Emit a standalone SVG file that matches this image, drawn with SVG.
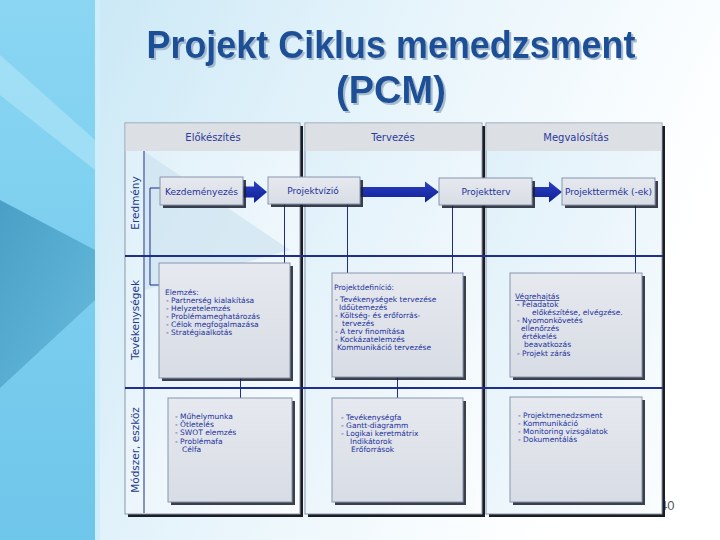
<svg xmlns="http://www.w3.org/2000/svg" width="720" height="540" viewBox="0 0 720 540">
<defs>
<linearGradient id="bg" x1="0" y1="0" x2="1" y2="0.35">
<stop offset="0" stop-color="#c3e5f5"/>
<stop offset="0.45" stop-color="#e2f2fa"/>
<stop offset="0.85" stop-color="#f8fcfe"/>
<stop offset="1" stop-color="#ffffff"/>
</linearGradient>
<linearGradient id="band" x1="0" y1="0" x2="0" y2="1">
<stop offset="0" stop-color="#8ad6f3"/>
<stop offset="1" stop-color="#6ec6ea"/>
</linearGradient>
<linearGradient id="wedge" x1="0" y1="0" x2="1" y2="1">
<stop offset="0" stop-color="#4a9fc6"/>
<stop offset="1" stop-color="#66bbde"/>
</linearGradient>
<linearGradient id="pang" x1="0" y1="0" x2="1" y2="1">
<stop offset="0" stop-color="#dff0f9"/>
<stop offset="0.6" stop-color="#eef7fc"/>
<stop offset="1" stop-color="#fbfdfe"/>
</linearGradient>
<linearGradient id="boxg" x1="0" y1="0" x2="0" y2="1">
<stop offset="0" stop-color="#e6e9ef"/>
<stop offset="1" stop-color="#d8dce4"/>
</linearGradient>
<linearGradient id="arrg" x1="0" y1="0" x2="0" y2="1">
<stop offset="0" stop-color="#2a40c4"/>
<stop offset="1" stop-color="#0f1f94"/>
</linearGradient>
<filter id="tsh" x="-5%" y="-20%" width="110%" height="140%">
<feDropShadow dx="2" dy="2" stdDeviation="0.6" flood-color="#9fb6cc" flood-opacity="0.9"/>
</filter>
<style>
.hdr{font-family:"DejaVu Sans",Verdana,sans-serif;font-size:10px;fill:#2b3a9e;text-anchor:middle}
.rl{font-family:"DejaVu Sans",Verdana,sans-serif;font-size:10.5px;fill:#27388a;text-anchor:middle}
.bt{font-family:"DejaVu Sans",Verdana,sans-serif;font-size:9px;fill:#22329c;text-anchor:middle}
.t{font-family:"DejaVu Sans",Verdana,sans-serif;font-size:7.5px;fill:#22329c}
.box{fill:url(#boxg);stroke:#8795ad;stroke-width:1}
.sh{fill:#1b1e2c;opacity:0.85}
.pan{fill:url(#pang);stroke:#8a96a8;stroke-width:1}
.psh{fill:#1c1c24}
.phd{fill:#dcdfe3}
.conn{stroke:#1f2d8c;stroke-width:1;fill:none}
.row{stroke:#1e2f8f;stroke-width:2;fill:none}
.arr{fill:url(#arrg)}
</style>
</defs>

<!-- background -->
<rect x="0" y="0" width="720" height="540" fill="url(#bg)"/>
<rect x="0" y="0" width="95" height="540" fill="url(#band)"/>
<polygon points="0,55 95,140 95,170 0,95" fill="#b2e6f8" opacity="0.6"/>
<polygon points="0,200 95,250 95,300 0,388" fill="url(#wedge)"/>
<rect x="95" y="0" width="5" height="540" fill="#cdeefa"/>

<!-- title -->
<g id="title" font-family="'Liberation Sans',Arial,sans-serif" font-weight="bold" text-anchor="middle" fill="#1b4f96" filter="url(#tsh)">
<text x="391" y="58" font-size="38" textLength="489" lengthAdjust="spacingAndGlyphs">Projekt Ciklus menedzsment</text>
<text x="391" y="103" font-size="38">(PCM)</text>
</g>

<text x="660" y="510" font-family="'Liberation Sans',Arial,sans-serif" font-size="13" fill="#555555">40</text>

<!-- column panels -->
<g id="col-elokeszites">
<rect class="psh" x="128" y="126" width="175" height="391"/>
<rect class="pan" x="125" y="123" width="175" height="391"/>
<polygon points="145,152 290,250 145,290" fill="#c6dfec" opacity="0.55"/>
<rect class="phd" x="125.5" y="123.5" width="174" height="27.5"/>
<text class="hdr" x="213" y="141">Előkészítés</text>
</g>
<g id="col-tervezes">
<rect class="psh" x="308" y="126" width="177" height="391"/>
<rect class="pan" x="305" y="123" width="177" height="391"/>
<rect class="phd" x="305.5" y="123.5" width="176" height="27.5"/>
<text class="hdr" x="393" y="141">Tervezés</text>
</g>
<g id="col-megvalositas">
<rect class="psh" x="489" y="126" width="176" height="391"/>
<rect class="pan" x="486" y="123" width="176" height="391"/>
<rect class="phd" x="486.5" y="123.5" width="175" height="27.5"/>
<text class="hdr" x="576" y="141">Megvalósítás</text>
</g>

<!-- row structure -->
<g id="rows">
<line class="conn" x1="144" y1="151" x2="144" y2="513"/>
<line class="row" x1="125" y1="256" x2="663" y2="256"/>
<line class="row" x1="125" y1="388" x2="663" y2="388"/>
<text class="rl" transform="translate(138.5,203) rotate(-90)">Eredmény</text>
<text class="rl" transform="translate(138.5,320) rotate(-90)">Tevékenységek</text>
<text class="rl" transform="translate(138.5,450) rotate(-90)">Módszer, eszköz</text>
</g>

<!-- connectors -->
<g id="connectors">
<polyline class="conn" points="160,188 150,188 150,285 159,285"/>
<line class="conn" x1="284.5" y1="204" x2="284.5" y2="263"/>
<line class="conn" x1="347.5" y1="204" x2="347.5" y2="273"/>
<line class="conn" x1="452.5" y1="205" x2="452.5" y2="273"/>
<line class="conn" x1="635.5" y1="205" x2="635.5" y2="273"/>
<line class="conn" x1="240.5" y1="378" x2="240.5" y2="398"/>
<line class="conn" x1="397.5" y1="377" x2="397.5" y2="398"/>
<polygon class="arr" points="243,186.5 254,186.5 254,181 267,192 254,203 254,197.5 243,197.5"/>
<polygon class="arr" points="360,187 425,187 425,181.5 439,192 425,202.5 425,197 360,197"/>
<polygon class="arr" points="532,187 549,187 549,181.5 562,192 549,202.5 549,197 532,197"/>
</g>

<!-- row 1 nodes -->
<g id="kezdemenyezes">
<rect class="sh" x="163" y="180" width="83" height="28"/>
<rect class="box" x="160" y="177" width="83" height="28"/>
<text class="bt" x="201.5" y="195">Kezdeményezés</text>
</g>
<g id="projektvizio">
<rect class="sh" x="271" y="180" width="92" height="27"/>
<rect class="box" x="268" y="177" width="92" height="27"/>
<text class="bt" x="313" y="194">Projektvízió</text>
</g>
<g id="projektterv">
<rect class="sh" x="442" y="181" width="93" height="27"/>
<rect class="box" x="439" y="178" width="93" height="27"/>
<text class="bt" x="486" y="195">Projektterv</text>
</g>
<g id="projekttermek">
<rect class="sh" x="565" y="181" width="93" height="27"/>
<rect class="box" x="562" y="178" width="93" height="27"/>
<text class="bt" x="608.5" y="195" font-size="8.5">Projekttermék (-ek)</text>
</g>

<!-- row 2 nodes -->
<g id="elemzes">
<rect class="sh" x="162" y="266" width="131" height="115"/>
<rect class="box" x="159" y="263" width="131" height="115"/>
<text class="t" x="165" y="295">Elemzés:</text>
<text class="t" x="166" y="303">- Partnerség kialakítása</text>
<text class="t" x="166" y="311">- Helyzetelemzés</text>
<text class="t" x="166" y="319">- Problémameghatározás</text>
<text class="t" x="166" y="327">- Célok megfogalmazása</text>
<text class="t" x="166" y="335">- Stratégiaalkotás</text>
</g>
<g id="projektdefinicio">
<rect class="sh" x="335" y="276" width="131" height="104"/>
<rect class="box" x="332" y="273" width="131" height="104"/>
<text class="t" x="334" y="290">Projektdefiníció:</text>
<text class="t" x="335" y="302">- Tevékenységek tervezése</text>
<text class="t" x="339" y="310">Időütemezés</text>
<text class="t" x="335" y="318">- Költség- és erőforrás-</text>
<text class="t" x="342" y="326">tervezés</text>
<text class="t" x="335" y="334">- A terv finomítása</text>
<text class="t" x="335" y="342">- Kockázatelemzés</text>
<text class="t" x="337" y="350">Kommunikáció tervezése</text>
</g>
<g id="vegrehajtas">
<rect class="sh" x="513" y="276" width="132" height="104"/>
<rect class="box" x="510" y="273" width="132" height="104"/>
<text class="t" x="515" y="299" text-decoration="underline">Végrehajtás</text>
<text class="t" x="517" y="307">- Feladatok</text>
<text class="t" x="532" y="315">előkészítése,  elvégzése.</text>
<text class="t" x="517" y="323">- Nyomonkövetés</text>
<text class="t" x="521" y="331">ellenőrzés</text>
<text class="t" x="522" y="339">értékelés</text>
<text class="t" x="524" y="347">beavatkozás</text>
<text class="t" x="517" y="356">- Projekt zárás</text>
</g>

<!-- row 3 nodes -->
<g id="muhelymunka">
<rect class="sh" x="171" y="401" width="124" height="104"/>
<rect class="box" x="168" y="398" width="124" height="104"/>
<text class="t" x="175" y="419">- Műhelymunka</text>
<text class="t" x="175" y="427">- Ötletelés</text>
<text class="t" x="175" y="435">- SWOT elemzés</text>
<text class="t" x="175" y="444">- Problémafa</text>
<text class="t" x="182" y="452">Célfa</text>
</g>
<g id="tevekenysegfa">
<rect class="sh" x="335" y="401" width="131" height="104"/>
<rect class="box" x="332" y="398" width="131" height="104"/>
<text class="t" x="341" y="420">- Tevékenységfa</text>
<text class="t" x="341" y="428">- Gantt-diagramm</text>
<text class="t" x="341" y="436">- Logikai keretmátrix</text>
<text class="t" x="350" y="444">Indikátorok</text>
<text class="t" x="351" y="452">Erőforrások</text>
</g>
<g id="projektmenedzsment">
<rect class="sh" x="513" y="400" width="132" height="105"/>
<rect class="box" x="510" y="397" width="132" height="105"/>
<text class="t" x="518" y="418">- Projektmenedzsment</text>
<text class="t" x="518" y="426">- Kommunikáció</text>
<text class="t" x="518" y="434">- Monitoring vizsgálatok</text>
<text class="t" x="518" y="442">- Dokumentálás</text>
</g>
</svg>
